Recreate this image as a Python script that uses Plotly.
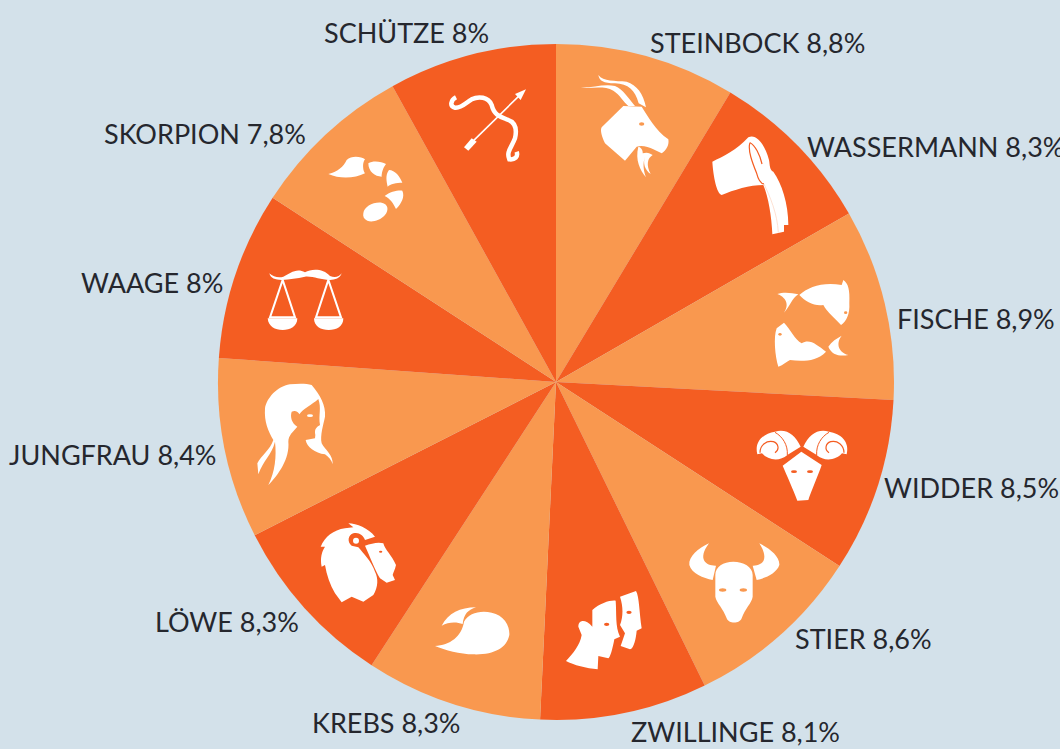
import re
import plotly.graph_objects as go

signs = ["STEINBOCK", "WASSERMANN", "FISCHE", "WIDDER", "STIER", "ZWILLINGE",
         "KREBS", "LÖWE", "JUNGFRAU", "WAAGE", "SKORPION", "SCHÜTZE"]
shares = ["8,8", "8,3", "8,9", "8,5", "8,6", "8,1", "8,3", "8,3", "8,4", "8", "7,8", "8"]
# wedge sizes as they are drawn in the picture (degrees), not proportional to the printed shares
wedge_degrees = [31.05, 29.03, 32.98, 29.94, 30.9, 28.8, 30.37, 29.98, 31.04, 28.94, 28.05, 28.92]
slice_colors = ["#F9984F", "#F45D22"] * 6
label_left = [647.5, 805, 894.5, 882, 792.5, 629, 310, 153, 7, 79, 101.5, 322]
label_mid = [42, 146, 318, 487, 638, 731, 722, 621, 455, 282, 133, 33]

W, H = 1060, 749
BG = "#D3E1EA"
DARK = "#F45D22"
LIGHT = "#F9984F"
TXT = "#25272E"


def to_paper(path, ox, oy, s=3.0):
    """Zoom-crop pixel path -> paper coordinates."""
    out, is_x = [], True
    for tok in re.findall(r"[MLCQZ]|-?\d+\.?\d*", path):
        if tok in "MLCQZ":
            out.append(tok)
            is_x = True
        elif is_x:
            out.append(f"{(ox + float(tok) / s) / W:.5f}")
            is_x = False
        else:
            out.append(f"{1 - (oy + float(tok) / s) / H:.5f}")
            is_x = True
    res, i = "", 0
    while i < len(out):
        t = out[i]
        if t in "MLCQZ":
            res += t
            i += 1
        else:
            res += out[i] + "," + out[i + 1] + " "
            i += 2
    return res.strip()


shapes = []


def fill(path, ox, oy, color="white", s=3.0):
    shapes.append(dict(type="path", xref="paper", yref="paper", layer="above",
                       path=to_paper(path, ox, oy, s), fillcolor=color,
                       line=dict(width=0)))


def stroke(path, ox, oy, width, color="white", s=3.0):
    shapes.append(dict(type="path", xref="paper", yref="paper", layer="above",
                       path=to_paper(path, ox, oy, s), fillcolor="rgba(0,0,0,0)",
                       line=dict(width=width, color=color)))


def dot(cx, cy, rx, ry, ox, oy, color, s=3.0):
    x = ox + cx / s
    y = oy + cy / s
    rx /= s
    ry /= s
    shapes.append(dict(type="circle", xref="paper", yref="paper", layer="above",
                       x0=(x - rx) / W, x1=(x + rx) / W,
                       y0=1 - (y + ry) / H, y1=1 - (y - ry) / H,
                       fillcolor=color, line=dict(width=0)))


# Steinbock
o = (560, 50)
fill("M57,112 C90,118 130,105 160,122 C180,135 190,155 205,168 L225,168 C205,145 190,118 165,108 C130,100 90,116 57,112 Z", *o)
fill("M115,75 C118,92 130,100 165,100 C205,102 225,120 236,160 L258,172 C250,130 230,105 200,95 C165,92 130,95 115,75 Z", *o)
fill("M190,168 L245,170 C265,200 285,240 325,268 C328,285 320,300 305,310 L280,298 C265,290 245,285 230,290 L195,332 L135,280 C125,260 120,240 125,232 Z", *o)
fill("M235,290 C240,290 250,300 248,310 C262,305 270,310 278,315 C262,325 258,345 272,372 C255,360 248,340 255,320 C248,340 250,360 258,382 C240,360 225,330 235,290 Z", *o)
dot(245, 222, 8, 5, *o, LIGHT)
# Wassermann
fill("M457,335 C490,320 530,300 565,262 C590,250 615,285 627,330 C630,345 628,360 640,365 C665,400 685,460 685,525 L672,525 L672,545 L637,553 C635,500 625,440 610,405 C570,405 520,420 485,435 C470,430 460,380 457,335 Z", *o)
stroke("M570,278 C562,300 578,340 590,370 C595,390 600,400 612,402", *o, 1.2, DARK)
stroke("M570,278 C585,285 600,315 606,342", *o, 1.2, DARK)
stroke("M612,402 C630,440 652,490 655,548", *o, 0.8, "#FDD9C8")
# Fische
fill("M652,732 C670,725 695,728 715,733 C695,745 690,770 672,788 C685,770 685,745 652,732 Z", *o)
fill("M718,735 C745,710 790,695 845,705 L850,690 C865,700 870,720 868,760 C870,790 860,815 843,825 C825,805 800,785 790,765 C765,770 735,755 718,735 Z", *o)
dot(857, 788, 5, 4, *o, LIGHT)
fill("M672,818 C690,835 705,870 725,880 C750,865 770,885 798,905 C770,935 725,935 690,930 C680,935 670,945 655,950 C645,920 640,860 650,835 Z", *o)
fill("M805,890 C815,875 830,865 845,857 C830,875 830,905 865,915 C840,920 815,915 805,890 Z", *o)
dot(660, 853, 5, 4, *o, LIGHT)

# Widder
o = (560, 400)
fill("M592,163 C582,125 610,100 645,95 C680,85 705,105 722,140 L682,165 C660,185 625,182 606,160 Z", *o)
fill("M860,163 C870,125 842,100 807,95 C772,85 747,105 730,140 L770,165 C792,185 827,182 846,160 Z", *o)
stroke("M600,158 C600,135 620,120 640,125 C655,130 660,148 645,158", *o, 1.2, DARK)
stroke("M852,158 C852,135 832,120 812,125 C797,130 792,148 807,158", *o, 1.2, DARK)
stroke("M645,97 C668,110 684,135 682,165", *o, 1, DARK)
stroke("M807,97 C784,110 768,135 770,165", *o, 1, DARK)
fill("M668,197 L724,155 L785,195 C775,225 755,270 745,300 L712,302 C700,270 680,225 668,197 Z", *o)
dot(702, 215, 9, 4, *o, DARK)
dot(750, 215, 9, 4, *o, DARK)
# Stier
fill("M447,430 C415,445 385,470 388,495 C395,520 430,535 458,540 L468,497 C440,498 410,480 447,430 Z", *o)
fill("M598,430 C630,445 660,470 658,495 C650,520 615,535 590,540 L578,497 C605,498 630,480 598,430 Z", *o)
fill("M520,485 C550,485 578,500 578,525 L578,590 C575,610 555,625 545,655 C540,672 505,672 500,655 C490,625 470,610 466,590 L466,525 C466,500 490,485 520,485 Z", *o)
dot(488, 570, 11, 5, *o, LIGHT)
dot(550, 570, 11, 5, *o, LIGHT)
# Zwillinge
fill("M180,590 L228,573 C238,590 238,640 245,685 L230,692 C228,715 222,745 210,748 L182,738 L195,700 L180,675 C190,650 190,620 180,590 Z", *o)
fill("M97,630 C120,610 150,600 167,602 C170,640 165,680 180,710 L163,718 C158,745 150,775 145,775 L115,768 L113,808 C80,805 40,795 18,783 C40,760 60,735 65,705 L55,680 C55,660 75,655 97,680 Z", *o)
dot(140, 673, 8, 5, *o, DARK)
dot(207, 637, 8, 5, *o, DARK)

# Krebs
o = (240, 400)
fill("M585,738 C630,735 665,710 672,665 C685,640 720,630 755,638 C790,645 810,675 808,705 C800,745 760,765 700,763 C660,763 615,750 585,738 Z", *o)
fill("M605,677 C625,640 660,622 708,622 C685,630 672,640 668,672 C650,665 625,665 605,677 Z", *o)

# Jungfrau
o = (240, 375)
fill("M150,28 C110,35 80,70 75,100 C72,140 85,170 100,195 C90,225 65,240 52,265 L55,298 C70,255 95,240 105,200 C110,245 105,290 85,330 C115,300 150,250 145,200 C145,180 160,170 172,155 C155,145 150,125 155,110 C165,105 175,110 178,118 C190,100 215,90 235,72 C245,100 235,120 240,150 C232,155 222,160 226,180 L225,190 L197,195 C200,215 225,235 255,238 C265,245 275,255 278,268 C280,240 255,225 245,205 C240,180 250,150 255,125 C258,90 240,60 215,30 C200,25 175,25 150,28 Z", *o)
dot(210, 122, 9, 4, *o, "white")

# Löwe
o = (310, 515)
fill("M115,25 C140,25 175,40 195,65 L165,75 C160,60 145,50 130,55 C115,60 110,80 125,92 L145,97 C160,115 185,140 195,170 C205,190 205,215 190,240 L160,260 L125,245 L95,262 L75,235 C60,210 50,180 45,150 L35,155 C30,130 35,110 45,95 L32,95 C45,65 70,45 105,40 L130,37 Z", *o)
dot(138, 77, 9, 9, *o, "white")
fill("M165,92 C185,85 205,80 220,85 C225,105 245,120 258,150 C255,165 250,172 248,180 L255,195 L230,203 L210,190 C195,165 180,125 165,92 Z", *o)
dot(212, 110, 5, 3, *o, DARK)

# Schütze, Skorpion, Waage
o = (240, 60)
stroke("M648,112 C632,120 628,140 645,143 C665,145 675,130 695,118 C715,108 745,110 755,135 C762,165 780,170 800,178 C825,185 832,205 825,235 C815,262 798,275 808,298 C825,300 835,290 830,275", *o, 4.5)
stroke("M680,262 L848,97", *o, 1.6)
fill("M858,88 L825,102 L842,120 Z", *o)
fill("M672,262 L695,235 L710,245 L685,272 Z", *o)

fill("M265,342 C295,335 310,320 320,300 C335,285 365,290 375,298 C365,310 370,335 375,340 C345,355 300,358 265,342 Z", *o)
fill("M385,310 C400,300 425,305 438,312 C428,325 425,340 425,350 C405,350 385,335 385,310 Z", *o)
fill("M447,330 C465,330 480,350 487,368 C470,368 450,372 443,380 C440,365 435,345 447,330 Z", *o)
fill("M434,408 C450,395 475,390 487,392 C495,410 485,430 468,447 C460,430 450,415 434,408 Z", *o)
fill("M370,460 C372,440 400,425 425,428 C445,432 447,450 435,465 C420,482 395,488 382,482 C372,478 368,470 370,460 Z", *o)

fill("M88,640 C100,650 115,655 130,650 C150,640 170,622 195,637 C215,625 250,625 270,648 C285,655 298,650 305,640 C300,655 285,660 270,660 C240,660 220,648 195,650 C170,655 150,658 125,660 C105,660 92,655 88,640 Z", *o)
fill("M83,775 L172,775 C172,800 150,810 128,810 C105,810 85,800 83,775 Z", *o)
fill("M222,775 L310,775 C310,800 290,810 266,810 C243,810 222,800 222,775 Z", *o)
stroke("M90,772 L128,660 L165,772 Z", *o, 2)
stroke("M228,772 L265,660 L303,772 Z", *o, 2)

annotations = [
    dict(text=f"{n} {v}%", x=lx / W, y=1 - ly / H,
         xref="paper", yref="paper", xanchor="left", yanchor="middle",
         showarrow=False, font=dict(family="Lato", size=27, color=TXT))
    for n, v, lx, ly in zip(signs, shares, label_left, label_mid)
]

fig = go.Figure(go.Pie(
    labels=signs, values=wedge_degrees, sort=False, direction="clockwise", rotation=0,
    marker=dict(colors=slice_colors, line=dict(width=0)),
    textinfo="none", hoverinfo="skip", showlegend=False,
    domain=dict(x=[218 / W, 894 / W], y=[1 - 720 / H, 1 - 44 / H]),
))
fig.update_layout(width=W, height=H, margin=dict(l=0, r=0, t=0, b=0),
                  paper_bgcolor=BG, plot_bgcolor=BG, showlegend=False,
                  shapes=shapes, annotations=annotations)
fig.write_html("out.html", config={"displayModeBar": False},
               post_script="document.body.style.margin='0';"
                           "document.documentElement.style.overflow='hidden';"
                           "document.body.style.background='#D3E1EA';")
